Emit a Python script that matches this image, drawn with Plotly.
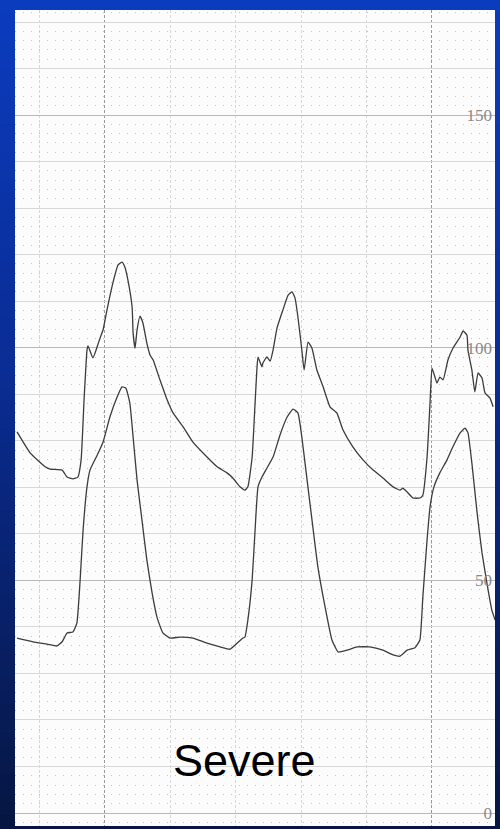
import plotly.graph_objects as go

aortic_t = [-0.269, -0.229, -0.183, -0.168, -0.131, -0.116, -0.098, -0.083, -0.073, -0.064, -0.055, -0.052,
            -0.037, -0.024, -0.015, -0.006, 0.006, 0.024, 0.040, 0.052, 0.061, 0.070, 0.083, 0.086, 0.092,
            0.098, 0.107, 0.116, 0.128, 0.138, 0.147, 0.168, 0.190, 0.208, 0.239, 0.269, 0.312, 0.343,
            0.373, 0.391, 0.413, 0.428, 0.437, 0.450, 0.459, 0.465, 0.468, 0.480, 0.483, 0.495, 0.505,
            0.514, 0.526, 0.544, 0.560, 0.572, 0.581, 0.590, 0.602, 0.609, 0.621, 0.633, 0.648, 0.667,
            0.688, 0.709, 0.728, 0.758, 0.789, 0.820, 0.850, 0.881, 0.902, 0.911, 0.924, 0.942, 0.963,
            0.972, 0.985, 0.994, 1.000, 1.009, 1.015, 1.024, 1.034, 1.049, 1.064, 1.086, 1.095, 1.107,
            1.110, 1.122, 1.131, 1.141, 1.153, 1.162, 1.177, 1.187]
aortic_p = [81.9, 77.4, 74.4, 73.9, 73.7, 72.2, 71.8, 72.2, 75.9, 88.8, 99.5, 100.4,
            97.8, 100.2, 102.1, 103.8, 108.1, 113.9, 117.8, 118.4, 117.3, 114.6, 108.7, 103.2, 99.9,
            103.8, 106.8, 105.3, 101.0, 98.4, 97.4, 93.1, 88.8, 86.0, 83.0, 79.7, 76.5, 74.4,
            73.1, 72.0, 70.1, 69.4, 70.1, 76.5, 88.1, 95.9, 98.0, 95.9, 96.7, 98.0, 97.1,
            99.5, 104.2, 108.1, 111.3, 112.0, 110.7, 106.6, 99.5, 95.2, 101.2, 99.9, 95.2, 91.6,
            87.3, 86.0, 82.3, 78.7, 75.9, 73.7, 72.0, 70.1, 69.4, 69.8, 69.0, 67.7, 67.7,
            68.3, 76.5, 88.1, 95.6, 93.7, 92.4, 93.7, 93.1, 97.4, 99.9, 102.3, 103.6, 102.7,
            99.5, 95.2, 90.5, 94.6, 93.5, 90.3, 89.2, 87.3]

lv_t = [-0.269, -0.220, -0.177, -0.147, -0.131, -0.116, -0.098, -0.086, -0.076, -0.067, -0.055, -0.046,
        -0.024, -0.006, 0.015, 0.037, 0.052, 0.064, 0.076, 0.086, 0.098, 0.113, 0.128, 0.144, 0.159,
        0.177, 0.199, 0.229, 0.269, 0.312, 0.352, 0.382, 0.404, 0.422, 0.428, 0.437, 0.450, 0.459,
        0.468, 0.480, 0.495, 0.514, 0.535, 0.557, 0.575, 0.590, 0.602, 0.618, 0.633, 0.651, 0.673,
        0.694, 0.713, 0.740, 0.771, 0.810, 0.850, 0.881, 0.902, 0.924, 0.948, 0.963, 0.972, 0.985,
        0.994, 1.006, 1.024, 1.046, 1.064, 1.086, 1.101, 1.110, 1.122, 1.138, 1.153, 1.168, 1.183, 1.193]
lv_p = [37.6, 36.8, 36.3, 35.9, 36.8, 38.7, 38.9, 40.8, 50.1, 60.8, 70.1, 73.7,
        76.9, 79.7, 85.1, 89.4, 91.6, 91.3, 88.1, 80.8, 71.6, 63.0, 54.4, 47.3, 42.1,
        38.7, 37.6, 37.8, 37.6, 36.5, 35.7, 35.2, 36.5, 37.6, 37.8, 41.5, 50.1, 60.8,
        70.1, 72.2, 74.1, 76.5, 81.2, 85.1, 86.8, 86.0, 80.8, 71.6, 63.0, 52.9, 44.3,
        37.2, 34.6, 35.0, 35.7, 35.7, 35.0, 34.0, 33.7, 35.0, 35.5, 37.2, 46.4, 58.7,
        65.8, 70.1, 73.1, 75.9, 78.7, 81.7, 82.7, 81.7, 75.2, 64.5, 55.9, 49.4, 43.6, 41.5]

y_ticks = [0, 50, 100, 150]
y_labels = ["0", "50", "100", "150"]
label_text = "Severe"

X_RANGE = [-0.2752, 1.1927]
Y_RANGE = [-2.79, 172.58]
TRACE_COLOR = "#3c3c3c"

fig = go.Figure()
fig.add_trace(go.Scatter(x=aortic_t, y=aortic_p, mode="lines",
                         line=dict(color=TRACE_COLOR, width=1.3, shape="spline", smoothing=0.4),
                         hoverinfo="skip"))
fig.add_trace(go.Scatter(x=lv_t, y=lv_p, mode="lines", yaxis="y2",
                         line=dict(color=TRACE_COLOR, width=1.3, shape="spline", smoothing=0.4),
                         hoverinfo="skip"))

# background gradient (decoration)
def lerp(c1, c2, f):
    return tuple(round(a + (b - a) * f) for a, b in zip(c1, c2))

stops = [(0.0, (11, 60, 190)), (0.45, (10, 44, 148)), (1.0, (6, 22, 66))]
shapes = []
n = 60
for i in range(n):
    f = (i + 0.5) / n
    for j in range(len(stops) - 1):
        if stops[j][0] <= f <= stops[j + 1][0]:
            g = (f - stops[j][0]) / (stops[j + 1][0] - stops[j][0])
            c = lerp(stops[j][1], stops[j + 1][1], g)
            break
    y_top = 1 + 10 / 816 - i * (829 / 816) / n
    y_bot = y_top - (829 / 816) / n - 0.002
    shapes.append(dict(type="rect", xref="paper", yref="paper", x0=-0.05, x1=1.05,
                       y0=y_bot, y1=y_top, fillcolor="rgb(%d,%d,%d)" % c,
                       line=dict(width=0), layer="below"))
shapes.append(dict(type="rect", xref="paper", yref="paper", x0=0, x1=1, y0=0, y1=1,
                   fillcolor="#fcfcfc", line=dict(width=0), layer="below"))

fig.update_layout(
    width=500, height=829, autosize=False,
    margin=dict(l=15, r=5, t=10, b=3, autoexpand=False),
    paper_bgcolor="rgb(10,44,148)",
    plot_bgcolor="#fcfcfc",
    showlegend=False,
    shapes=shapes,
    xaxis=dict(range=X_RANGE, showticklabels=False, ticks="", zeroline=False, automargin=False,
               tick0=0, dtick=1, showgrid=True, gridcolor="#9a9a9a", griddash="3px,2px", gridwidth=1,
               minor=dict(tick0=0, dtick=0.2, showgrid=True, gridcolor="#d8d8d8", gridwidth=1)),
    yaxis=dict(range=Y_RANGE, showticklabels=False, ticks="", zeroline=False, automargin=False,
               tick0=0, dtick=10, showgrid=True, gridcolor="#d8d8d8", gridwidth=1),
    yaxis2=dict(range=Y_RANGE, overlaying="y", anchor="x", side="right", zeroline=False,
                automargin=False,
                tickvals=y_ticks, ticktext=y_labels, ticks="", ticklabelposition="inside",
                tickfont=dict(family="Liberation Serif", size=17, color="#8a8a8a"),
                showgrid=True, gridcolor="#b8b8b8", gridwidth=1,
                minor=dict(tick0=0, dtick=2, showgrid=True, gridcolor="#c4c4c4",
                           griddash="1px,7px", gridwidth=1)),
    annotations=[dict(text=label_text, xref="paper", yref="paper", x=0.479, y=0.0797,
                      xanchor="center", yanchor="middle", showarrow=False,
                      font=dict(family="Liberation Sans", size=45, color="#000000"))],
)

fig.write_html("out.html", config={"displayModeBar": False},
               post_script="document.body.style.margin='0';")
